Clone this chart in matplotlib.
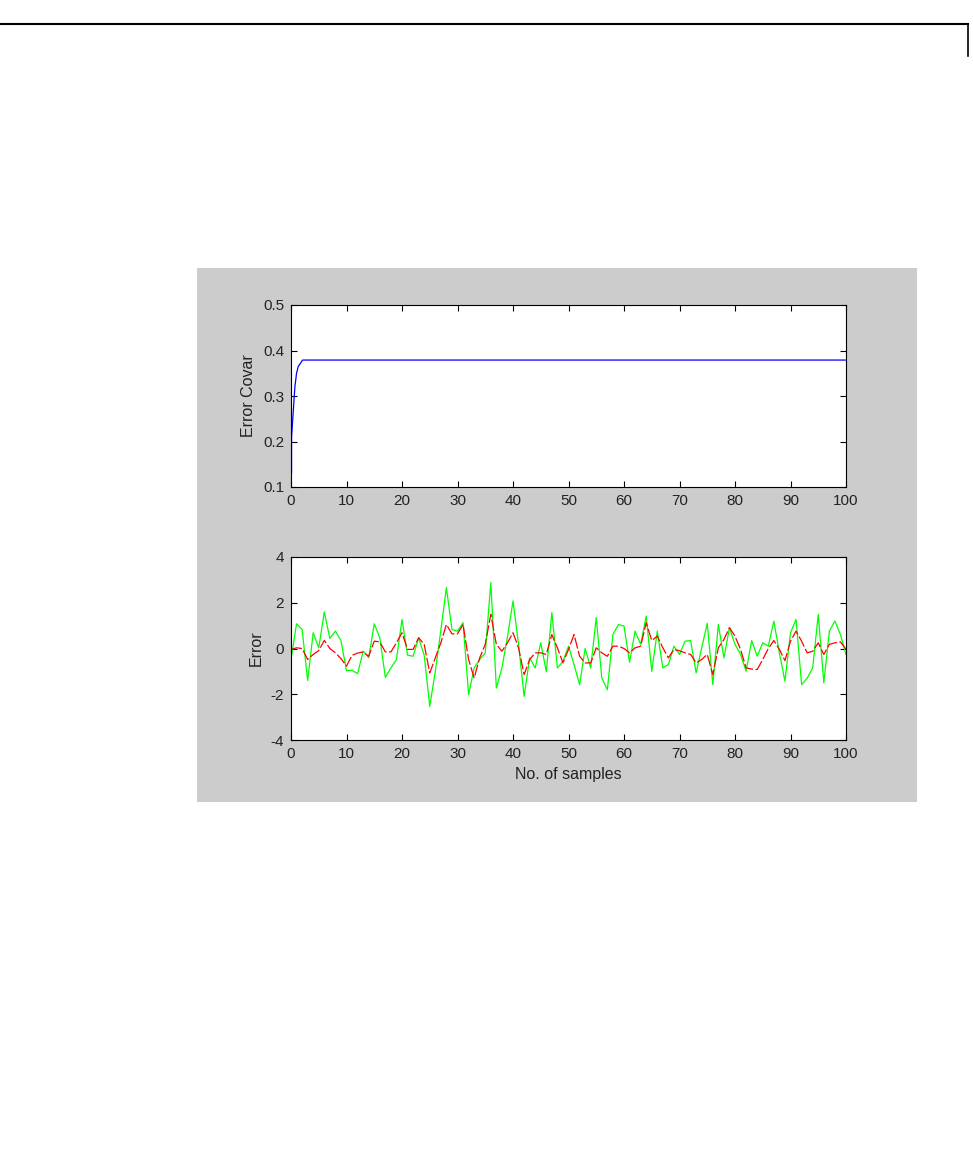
import matplotlib.pyplot as plt
from matplotlib.patches import Rectangle
from matplotlib.lines import Line2D

plt.rcParams['font.family'] = ['Liberation Sans', 'DejaVu Sans']
plt.rcParams['axes.unicode_minus'] = False

# error covariance (top plot), settles quickly
cov_t = [0, 0.1, 0.1, 0.4, 0.7, 1.0, 1.3, 2.1, 100]
cov_val = [0.13, 0.13, 0.21, 0.265, 0.32, 0.35, 0.365, 0.379, 0.379]

# measurement error (green) and filtered error (red dashed), samples 0..100
meas_err = [
    -0.48, 1.08, 0.83, -1.40, 0.69, 0.03, 1.60, 0.44, 0.76, 0.35,
    -0.97, -0.95, -1.10, -0.12, -0.40, 1.08, 0.47, -1.26, -0.85, -0.48,
    1.27, -0.29, -0.34, 0.47, -0.30, -2.53, -1.00, 0.80, 2.66, 0.83,
    0.76, 1.13, -2.02, -0.85, -0.48, -0.19, 2.88, -1.73, -0.85, 0.50,
    2.08, 0.18, -2.09, -0.41, -0.85, 0.25, -1.02, 1.57, -0.85, -0.56,
    0.10, -0.70, -1.58, 0.00, -0.85, 1.35, -1.29, -1.80, 0.61, 1.05,
    0.98, -0.60, 0.76, 0.18, 1.42, -1.00, 0.76, -0.85, -0.70, 0.10,
    -0.26, 0.32, 0.35, -1.07, 0.03, 1.10, -1.58, 1.05, -0.41, 0.91,
    0.18, -0.26, -0.99, 0.35, -0.34, 0.25, 0.10, 1.20, -0.20, -1.43,
    0.69, 1.27, -1.58, -1.30, -0.85, 1.49, -1.50, 0.76, 1.20, 0.61,
    -0.26,
]
filt_err = [
    -0.04, 0.03, 0.00, -0.48, -0.26, -0.09, 0.35, 0.00, -0.19, -0.44,
    -0.77, -0.30, -0.20, -0.15, -0.34, 0.32, 0.29, -0.15, -0.15, 0.25,
    0.69, -0.04, -0.04, 0.47, 0.18, -1.07, -0.41, 0.25, 1.05, 0.64,
    0.64, 1.05, -0.48, -1.29, -0.41, 0.18, 1.49, 0.18, -0.12, 0.25,
    0.69, 0.03, -1.14, -0.48, -0.19, -0.19, -0.26, 0.61, 0.03, -0.63,
    -0.04, 0.61, -0.34, -0.63, -0.63, 0.03, -0.19, -0.34, 0.10, 0.10,
    0.00, -0.19, 0.03, 0.10, 1.13, 0.35, 0.54, 0.03, -0.41, -0.04,
    -0.10, -0.19, -0.26, -0.63, -0.48, -0.26, -1.14, 0.03, 0.39, 0.91,
    0.54, -0.04, -0.85, -0.90, -0.92, -0.48, 0.00, 0.35, -0.04, -0.53,
    0.32, 0.76, 0.32, -0.19, -0.12, 0.25, -0.26, 0.18, 0.25, 0.29,
    -0.04,
]
samples = list(range(len(meas_err)))

fig = plt.figure(figsize=(9.73, 11.75), dpi=100)
W, H = 973, 1175

# page header rule
fig.add_artist(Line2D([0, 968 / W], [1 - 24 / H, 1 - 24 / H], color='black', lw=1.5))
fig.add_artist(Line2D([968 / W, 968 / W], [1 - 24 / H, 1 - 56 / H], color='black', lw=1.2))

# grey figure panel
fig.add_artist(Rectangle((197 / W, 1 - 802 / H), 720 / W, 534 / H,
                         facecolor='#cccccc', edgecolor='none', zorder=0))


def style_axes(ax):
    ax.set_facecolor('white')
    ax.tick_params(direction='in', top=True, right=True, length=4, width=0.8,
                   labelsize=11, pad=5, labelcolor='#222222')
    for s in ax.spines.values():
        s.set_linewidth(0.8)


ax1 = fig.add_axes([291 / W, 1 - 487 / H, 555 / W, 182 / H])
ax1.plot(cov_t, cov_val, color='blue', lw=0.9)
ax1.set_xlim(0, 100)
ax1.set_ylim(0.1, 0.5)
ax1.set_xticks(range(0, 101, 10))
ax1.set_yticks([0.1, 0.2, 0.3, 0.4, 0.5])
ax1.set_ylabel('Error Covar', fontsize=11.5, labelpad=5, color='#222222')
style_axes(ax1)

ax2 = fig.add_axes([291 / W, 1 - 740 / H, 555 / W, 183 / H])
ax2.plot(samples, meas_err, color='#00ff00', lw=0.9)
ax2.plot(samples, filt_err, color='red', lw=0.9, dashes=(9, 2))
ax2.set_xlim(0, 100)
ax2.set_ylim(-4, 4)
ax2.set_xticks(range(0, 101, 10))
ax2.set_yticks([-4, -2, 0, 2, 4])
ax2.set_ylabel('Error', fontsize=11.5, labelpad=5, color='#222222')
ax2.set_xlabel('No. of samples', fontsize=11.5, labelpad=4, color='#222222')
style_axes(ax2)

fig.savefig('out.png', dpi=100, facecolor='white')
